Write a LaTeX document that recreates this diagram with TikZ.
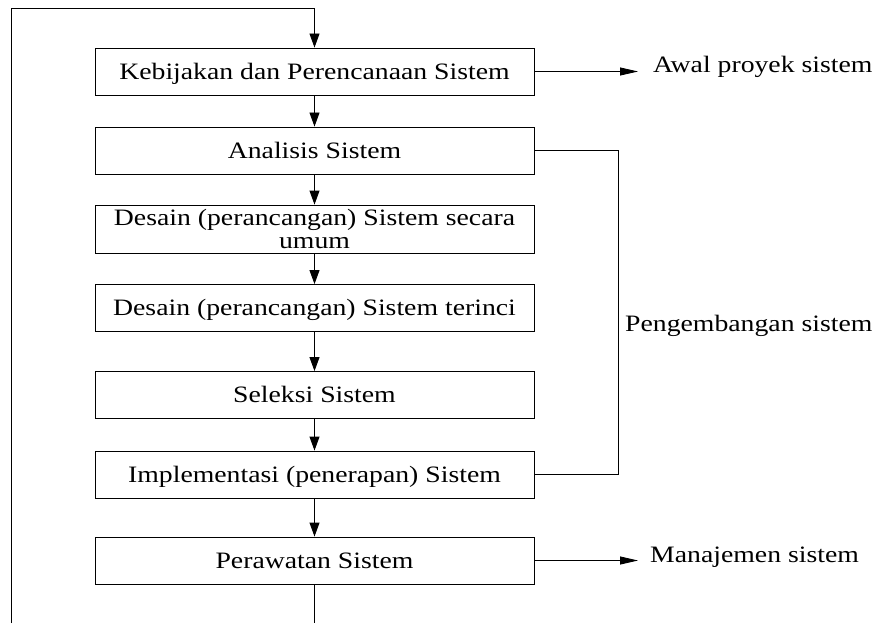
\documentclass[tikz,border=0pt]{standalone}
\usepackage{fontspec}
\setmainfont{Liberation Serif}[FakeStretch=1.18]
\usetikzlibrary{arrows.meta}
\begin{document}
\begin{tikzpicture}[x=1pt,y=-1pt,
  stepbox/.style={draw=black,line width=0.9pt,minimum width=439pt,minimum height=47pt,inner sep=0pt,
    font=\fontsize{23.5}{23}\selectfont,text height=15.5pt,text depth=0pt},
  wire/.style={draw=black,line width=0.9pt},
  varr/.style={wire,-{Triangle[length=14pt,width=10pt]}},
  harr/.style={wire,-{Triangle[length=18pt,width=8pt]}},
  lab/.style={anchor=base west,inner sep=0pt,font=\fontsize{23.5}{23}\selectfont}]
\useasboundingbox (0,0) rectangle (877,623);
\node[stepbox] (b1) at (314.5,71.5) {Kebijakan dan Perencanaan Sistem};
\node[stepbox] (b2) at (314.5,150.5) {Analisis Sistem};
\node[stepbox,minimum height=48pt,align=center,text height=,text depth=] (b3) at (314.5,229) {Desain (perancangan) Sistem secara\\umum};
\node[stepbox] (b4) at (314.5,308) {Desain (perancangan) Sistem terinci};
\node[stepbox] (b5) at (314.5,395) {Seleksi Sistem};
\node[stepbox] (b6) at (314.5,474.5) {Implementasi (penerapan) Sistem};
\node[stepbox] (b7) at (314.5,560.5) {Perawatan Sistem};
\coordinate (topL) at (11,8);
\coordinate (topC) at (314.5,8);
\coordinate (botL) at (11,623);
\coordinate (botC) at (314.5,623);
\coordinate (a1) at (638,71.5);
\coordinate (a7) at (638,560.5);
\coordinate (br2) at (618,150.5);
\coordinate (br6) at (618,474.5);
\draw[varr] (botL) -- (topL) -- (topC) -- (b1.north);
\draw[varr] (b1.south) -- (b2.north);
\draw[varr] (b2.south) -- (b3.north);
\draw[varr] (b3.south) -- (b4.north);
\draw[varr] (b4.south) -- (b5.north);
\draw[varr] (b5.south) -- (b6.north);
\draw[varr] (b6.south) -- (b7.north);
\draw[wire] (b7.south) -- (botC);
\draw[harr] (b1.east) -- (a1);
\draw[harr] (b7.east) -- (a7);
\draw[wire] (b2.east) -- (br2) -- (br6) -- (b6.east);
\node[lab] (l1) at (653,73) {Awal proyek sistem};
\node[lab] (l2) at (625,331) {Pengembangan sistem};
\node[lab] (l3) at (650,562) {Manajemen sistem};
\end{tikzpicture}
\end{document}
